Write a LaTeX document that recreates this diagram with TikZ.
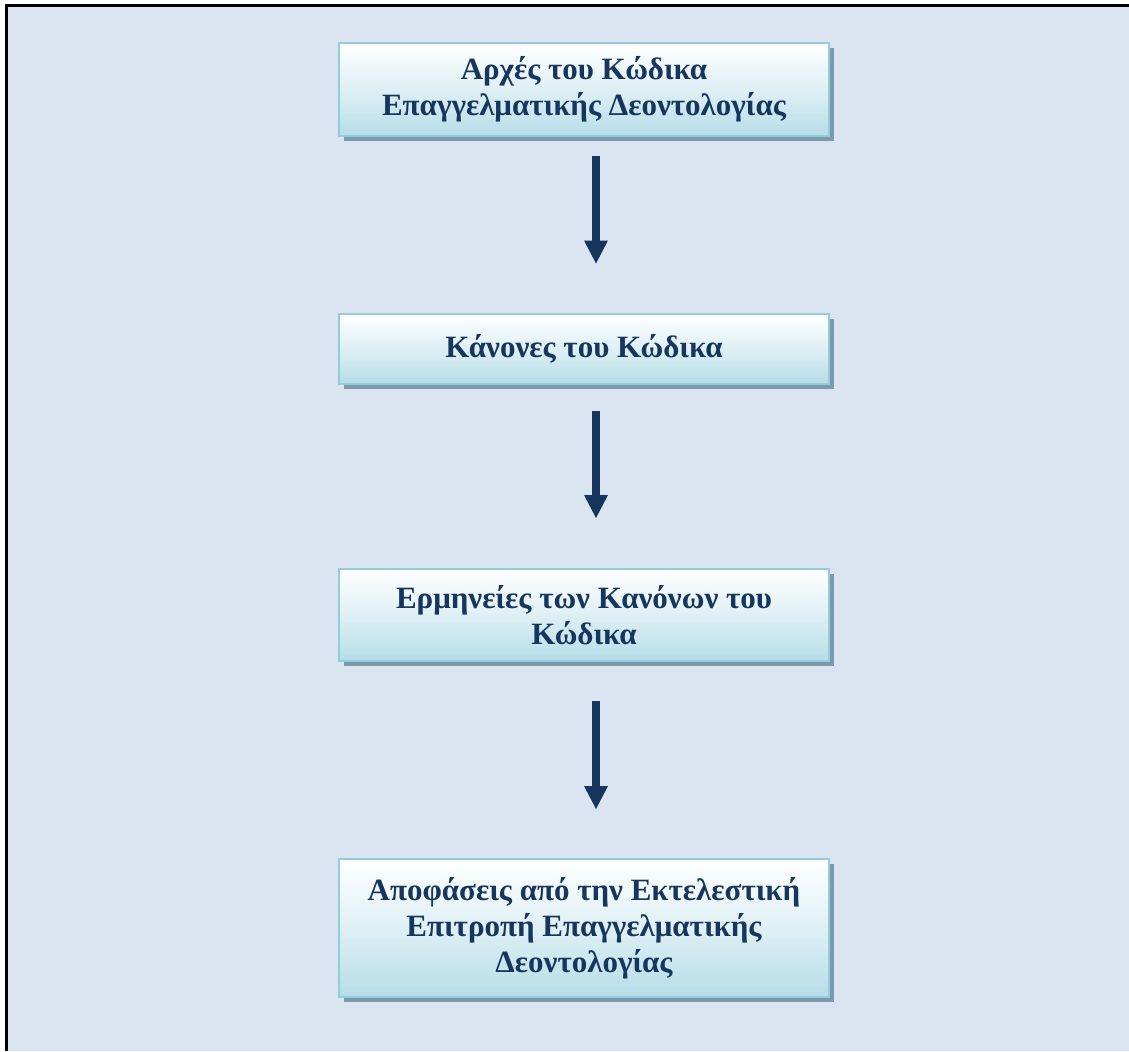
\documentclass[tikz,border=0pt]{standalone}
\usepackage{fontspec}
\setmainfont{Liberation Serif}
\usetikzlibrary{arrows.meta,shadows}

\definecolor{pagebg}{HTML}{DBE5F1}
\definecolor{boxedge}{HTML}{92CDDC}
\definecolor{boxlow}{HTML}{B6DDE8}
\definecolor{boxshade}{HTML}{7C9AAB}
\definecolor{navy}{HTML}{17365D}

\tikzset{
  stagebox/.style={
    rectangle, draw=boxedge, line width=1.5pt, outer sep=0pt,
    top color=white, bottom color=boxlow, middle color=boxlow!45!white,
    minimum width=367.5pt, align=center, text=navy,
    font=\bfseries\fontsize{23.25pt}{27pt}\selectfont,
    drop shadow={shadow xshift=3.75pt, shadow yshift=-3.75pt,
                 fill=boxshade, opacity=1}
  },
  flowarrow/.style={
    draw=navy, line width=6pt,
    -{Triangle[width=18pt,length=17.25pt,line width=0pt]}
  }
}

\begin{document}
\begin{tikzpicture}[x=0.75pt,y=-0.75pt]
  % page area and frame
  \useasboundingbox (0,0) rectangle (1129,1051);
  \fill[white] (0,0) rectangle (1129,1051);
  \fill[pagebg] (6,6) rectangle (1129,1051);
  \draw[black, line width=2.5pt] (6.3,1051) -- (6.3,5.7) -- (1129,5.7);

  % stages of the code
  \node[stagebox, minimum height=69.75pt] (b1) at (584,89.5)
    {Αρχές του Κώδικα\\Επαγγελματικής Δεοντολογίας};
  \node[stagebox, minimum height=52.5pt] (b2) at (584,348.5)
    {Κάνονες του Κώδικα};
  \node[stagebox, minimum height=69pt] (b3) at (584,615)
    {Ερμηνείες των Κανόνων του\\Κώδικα};
  \node[stagebox, minimum height=103.5pt] (b4) at (584,928)
    {Αποφάσεις από την Εκτελεστική\\Επιτροπή Επαγγελματικής\\Δεοντολογίας};

  % arrows between stages
  \draw[flowarrow, shorten <=15pt, shorten >=37.5pt]
    ([xshift=9pt]b1.south) -- ([xshift=9pt]b2.north);
  \draw[flowarrow, shorten <=20.25pt, shorten >=38.25pt]
    ([xshift=9pt]b2.south) -- ([xshift=9pt]b3.north);
  \draw[flowarrow, shorten <=30pt, shorten >=37.5pt]
    ([xshift=9pt]b3.south) -- ([xshift=9pt]b4.north);
\end{tikzpicture}
\end{document}
